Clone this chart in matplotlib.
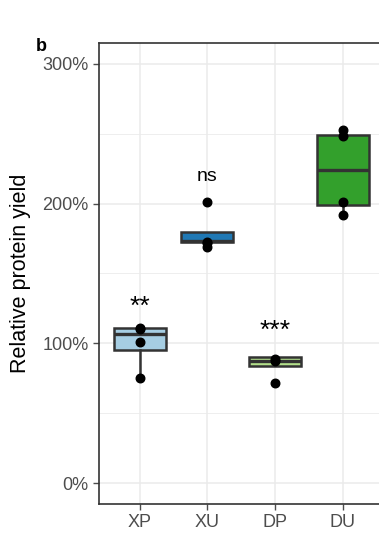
import matplotlib
matplotlib.use("Agg")
import matplotlib.pyplot as plt
from matplotlib.ticker import FuncFormatter, MultipleLocator

plt.rcParams['font.family'] = ['Liberation Sans', 'DejaVu Sans']

# groups and colours
groups = ['XP', 'XU', 'DP', 'DU']
colors = ['#a6cee3', '#1f78b4', '#b2df8a', '#33a02c']

# box statistics (%)
q1 = [95, 172.5, 84, 199]
med = [107, 173.5, 87, 224]
q3 = [111, 180, 90.5, 249.5]
whislo = [75, 172.5, 84, 192]
whishi = [111, 180, 90.5, 253]

# individual points (%)
pts_xp = [75, 101, 110, 111]
pts_xu = [169, 171.5, 172.5, 201]
pts_dp = [71.5, 87.5, 88.5]
pts_du = [192, 201, 248.5, 253]
points = [pts_xp, pts_xu, pts_dp, pts_du]

# significance labels and their heights (baseline)
sig = ['**', 'ns', '***', '']
sig_y = [121, 216, 104, 0]

fig = plt.figure(figsize=(3.79, 5.35), dpi=100)
ax = fig.add_axes([0.2612, 0.058, 0.75, 0.8616])

ax.set_axisbelow(True)
ax.yaxis.set_major_locator(MultipleLocator(100))
ax.yaxis.set_minor_locator(MultipleLocator(50))
ax.grid(True, which='major', color='#ebebeb', lw=1.1)
ax.grid(True, which='minor', axis='y', color='#ebebeb', lw=0.6)

stats = []
for i in range(len(groups)):
    stats.append(dict(q1=q1[i], med=med[i], q3=q3[i], whislo=whislo[i],
                      whishi=whishi[i], fliers=[], label=groups[i]))

bp = ax.bxp(stats, positions=range(1, 5), widths=0.77, patch_artist=True,
            showcaps=False,
            boxprops=dict(edgecolor='#333333', linewidth=1.8),
            medianprops=dict(color='#333333', linewidth=2.4),
            whiskerprops=dict(color='#333333', linewidth=1.8))
for patch, c in zip(bp['boxes'], colors):
    patch.set_facecolor(c)

for i, p in enumerate(points):
    ax.scatter([i + 1] * len(p), p, s=38, color='black', zorder=5)

for i, s in enumerate(sig):
    if s == 'ns':
        ax.text(i + 1, sig_y[i], s, ha='center', va='baseline', fontsize=14,
                color='black')
    elif s:
        ax.text(i + 1, sig_y[i], s, ha='center', va='baseline', fontsize=19,
                color='black')

ax.set_xlim(0.4, 4.6)
ax.set_ylim(-15, 315)
ax.set_xticks(range(1, 5))
ax.set_xticklabels(groups)
ax.yaxis.set_major_formatter(FuncFormatter(lambda v, pos: f'{v:.0f}%'))
ax.tick_params(axis='both', which='major', labelsize=13, colors='#4d4d4d',
               labelcolor='#4d4d4d', length=4, width=1)
ax.tick_params(axis='y', which='minor', length=0)
ax.set_ylabel('Relative protein yield', fontsize=15.5, color='black',
              labelpad=8)

for sp in ax.spines.values():
    sp.set_color('#333333')
    sp.set_linewidth(1.2)

fig.text(0.095, 0.905, 'b', fontsize=13, fontweight='bold')

fig.savefig('out.png', dpi=100)
